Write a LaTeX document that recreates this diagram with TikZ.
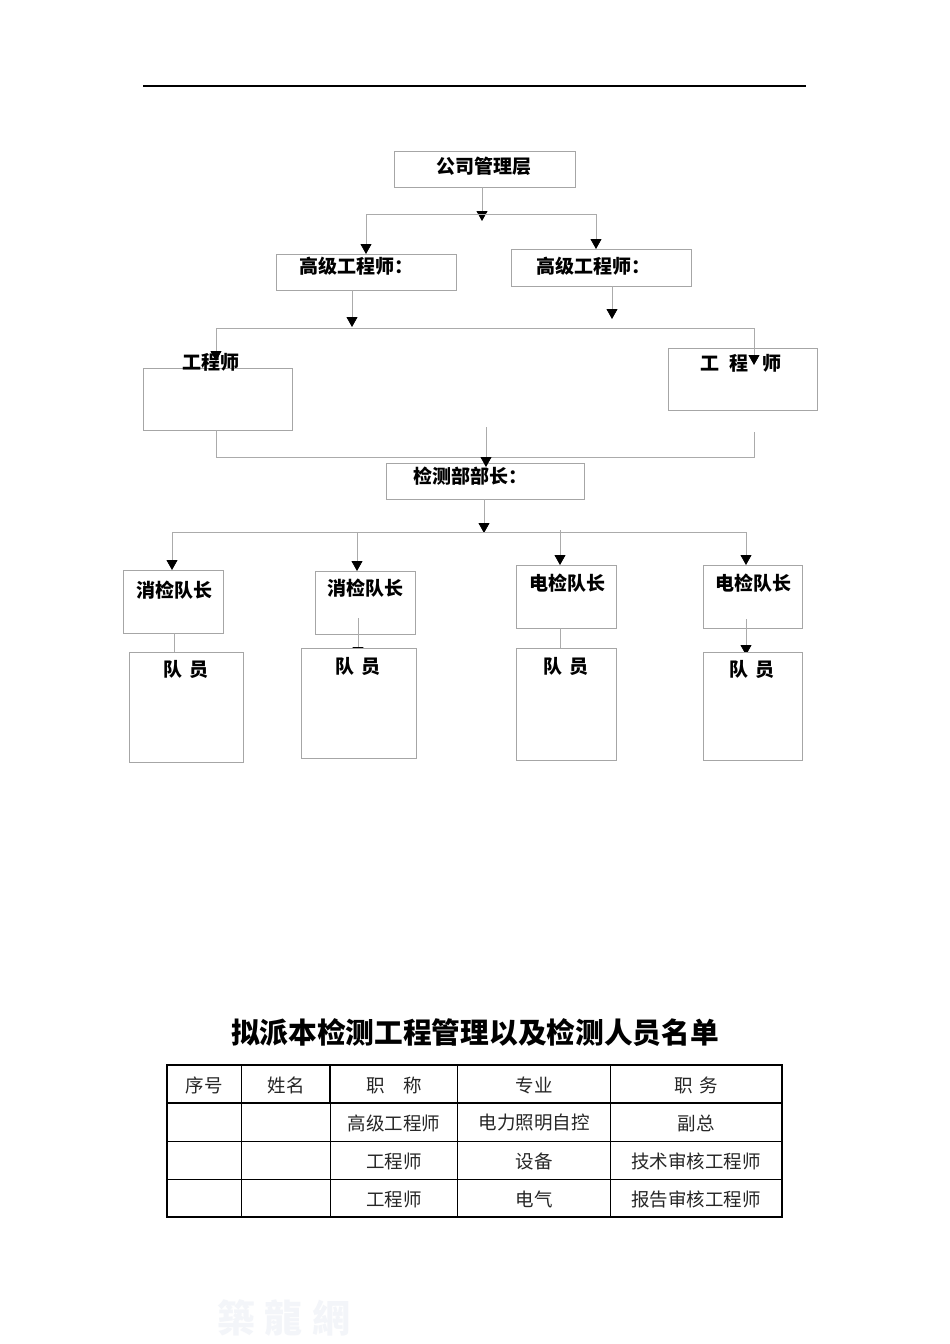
\documentclass[tikz,border=0pt]{standalone}
\usepackage{fontspec}
\setmainfont{Liberation Serif}
\newfontfamily\cjk{Noto Sans CJK SC}
\newfontfamily\cjktc{Noto Sans CJK TC}
\usetikzlibrary{arrows.meta}
\definecolor{linegray}{HTML}{ABABAB}
\definecolor{boxgray}{HTML}{A6A6A6}
\definecolor{wmcolor}{HTML}{F3F5F9}
\begin{document}
\begin{tikzpicture}[x=1pt,y=-1pt,
  box/.style={draw=boxgray,line width=0.8pt,fill=white,inner sep=0pt,outer sep=0pt},
  ln/.style={draw=linegray,line width=0.8pt},
  arr/.style={ln,-{Triangle[width=11pt,length=10pt,color=black]}},
  lbl/.style={font=\cjk\bfseries\fontsize{19}{19}\selectfont,inner sep=0pt},
  cell/.style={font=\cjk\fontsize{18.5}{19}\selectfont,inner sep=0pt,text=black!85},
  ttl/.style={font=\cjk\bfseries\fontsize{28.7}{29}\selectfont,inner sep=0pt},
  thick border/.style={line width=1.7pt},
  thin border/.style={line width=0.8pt}]
\useasboundingbox (0,0) rectangle (950,1344);
\fill[white] (0,0) rectangle (950,1344);

% top rule
\coordinate (r1) at (143,86);
\coordinate (r2) at (806,86);
\draw[line width=1.2pt] (r1) -- (r2);

% ---------- boxes ----------
\node[box,minimum width=181pt,minimum height=36pt] (A) at (484.5,169) {};
\node[box,minimum width=180pt,minimum height=36pt] (B1) at (366,272) {};
\node[box,minimum width=180pt,minimum height=37pt] (B2) at (601,267.5) {};
\node[box,minimum width=149pt,minimum height=62pt] (C1) at (217.5,399) {};
\node[box,minimum width=149pt,minimum height=62pt] (C2) at (742.5,379) {};
\node[box,minimum width=198pt,minimum height=36pt] (D) at (485,481) {};
\node[box,minimum width=100pt,minimum height=63pt] (Q1) at (173,601.5) {};
\node[box,minimum width=100pt,minimum height=63pt] (Q2) at (365,602.5) {};
\node[box,minimum width=100pt,minimum height=63pt] (Q3) at (566,596.5) {};
\node[box,minimum width=99pt,minimum height=63pt] (Q4) at (752.5,596.5) {};
\node[box,minimum width=114pt,minimum height=110pt] (M1) at (186,707) {};
\node[box,minimum width=100pt,minimum height=112pt] (M3) at (566,704) {};

% ---------- connectors ----------
\coordinate (a1) at (482,221);
\draw[arr] (A.south -| a1) -- (a1);
\coordinate (h1L) at (366,214);
\coordinate (h1R) at (596,214);
\draw[ln] (h1L) -- (h1R);
\draw[arr] (h1L) -- (h1L |- B1.north);
\draw[arr] (h1R) -- (h1R |- B2.north);

\coordinate (b1) at (352,327);
\coordinate (b2) at (612,319);
\draw[arr] (B1.south -| b1) -- (b1);
\draw[arr] (B2.south -| b2) -- (b2);

\coordinate (h2L) at (216,328);
\coordinate (h2R) at (754,328);
\draw[ln] (h2L) -- (h2R);
\coordinate (c1t) at (216,361);
\coordinate (c2t) at (754,365);
\draw[arr] (h2L) -- (c1t);
\draw[arr] (h2R) -- (c2t);

\coordinate (h3L) at (216,457);
\coordinate (h3R) at (754,457);
\coordinate (c2b) at (754,432);
\draw[ln] (C1.south -| h3L) -- (h3L) -- (h3R) -- (c2b);
\coordinate (dtop) at (486,427);
\draw[arr] (dtop) -- (486,467);

\coordinate (d1) at (484,533);
\draw[arr] (D.south -| d1) -- (d1);
\coordinate (h4L) at (172,532);
\coordinate (h4R) at (746,532);
\draw[ln] (h4L) -- (h4R);
\coordinate (q2j) at (357,532);
\coordinate (q3j) at (560,530);
\draw[arr] (h4L) -- (h4L |- Q1.north);
\draw[arr] (q2j) -- (q2j |- Q2.north);
\draw[arr] (q3j) -- (q3j |- Q3.north);
\draw[arr] (h4R) -- (h4R |- Q4.north);

\coordinate (m1x) at (174,652);
\draw[ln] (Q1.south -| m1x) -- (m1x);
\coordinate (m3x) at (560,648);
\draw[ln] (Q3.south -| m3x) -- (m3x);
\coordinate (m2s) at (358,618);
\coordinate (m2e) at (358,657);
\draw[arr] (m2s) -- (m2e);
\coordinate (m4s) at (746,619);
\coordinate (m4e) at (746,655);
\draw[arr] (m4s) -- (m4e);
\node[box,minimum width=115pt,minimum height=110pt] (M2) at (358.5,703) {};
\node[box,minimum width=99pt,minimum height=108pt] (M4) at (752.5,706) {};

% ---------- chart labels ----------
\node[lbl] (tA) at (484,166) {公司管理层};
\node[lbl] (tB1) at (356,266) {高级工程师：};
\node[lbl] (tB2) at (593,266) {高级工程师：};
\node[lbl] (tC1) at (210.5,362) {工程师};
\node[lbl] (tC2) at (740.5,363) {工\hspace{11pt}程\hspace{13pt}师};
\node[lbl] (tD) at (470,476) {检测部部长：};
\node[lbl] (tQ1) at (174,590) {消检队长};
\node[lbl] (tQ2) at (365,588) {消检队长};
\node[lbl] (tQ3) at (567,583) {电检队长};
\node[lbl] (tQ4) at (753,583) {电检队长};
\node[lbl] (tM1) at (186,669) {队\hspace{7pt}员};
\node[lbl] (tM2) at (358,666) {队\hspace{7pt}员};
\node[lbl] (tM3) at (566,666) {队\hspace{7pt}员};
\node[lbl] (tM4) at (752,669) {队\hspace{7pt}员};

% ---------- table ----------
\node[ttl] (title) at (475,1033) {拟派本检测工程管理以及检测人员名单};

\draw[thin border] (167,1141) -- (782,1141);
\draw[thin border] (167,1179) -- (782,1179);
\foreach \x in {241.5,330,457.5,610.5}{
  \draw[line width=1.3pt] (\x,1065) -- (\x,1103);
  \draw[thin border] (\x,1103) -- (\x,1217);
}
\draw[thick border] (167,1103) -- (782,1103);
\draw[thick border] (167,1065) rectangle (782,1217);

\node[cell] (h1) at (204,1085) {序号};
\node[cell] (h2) at (286,1085) {姓名};
\node[cell] (h3) at (394,1085) {职　称};
\node[cell] (h4) at (534,1085) {专业};
\node[cell] (h5) at (696,1085) {职\hspace{6pt}务};

\node[cell] (r1c3) at (394,1123) {高级工程师};
\node[cell] (r1c4) at (534,1123) {电力照明自控};
\node[cell] (r1c5) at (696,1123) {副总};
\node[cell] (r2c3) at (394,1161) {工程师};
\node[cell] (r2c4) at (534,1161) {设备};
\node[cell] (r2c5) at (696,1161) {技术审核工程师};
\node[cell] (r3c3) at (394,1199) {工程师};
\node[cell] (r3c4) at (534,1199) {电气};
\node[cell] (r3c5) at (696,1199) {报告审核工程师};

% watermark
\node[font=\cjktc\bfseries\fontsize{38}{38}\selectfont,text=wmcolor,inner sep=0pt] (wm) at (284,1318) {築\hspace{10pt}龍\hspace{10pt}網};
\end{tikzpicture}
\end{document}
